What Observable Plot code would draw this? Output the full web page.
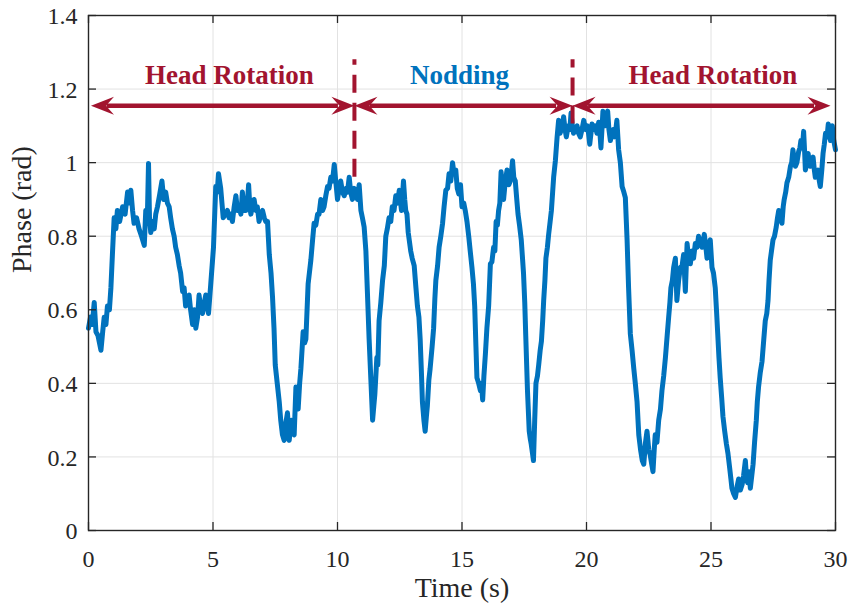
<!DOCTYPE html>
<html>
<head>
<meta charset="utf-8">
<script src="https://cdn.jsdelivr.net/npm/d3@7"></script>
<script src="https://cdn.jsdelivr.net/npm/@observablehq/plot@0.6"></script>
<style>
  html, body { margin: 0; padding: 0; background: #ffffff; }
  #chart svg { display: block; }
</style>
</head>
<body>
<div id="chart"></div>
<script>
// Phase signal over time (s → rad)
const time = [
  0.00,0.08,0.15,0.23,0.30,0.38,0.50,0.57,0.63,0.70,
  0.76,0.84,0.90,0.96,1.03,1.10,1.16,1.25,1.37,1.47,
  1.57,1.63,1.70,1.77,1.83,1.93,2.03,2.13,2.24,2.30,
  2.36,2.41,2.45,2.50,2.57,2.64,2.70,2.77,2.85,2.95,
  3.02,3.10,3.17,3.24,3.30,3.37,3.44,3.50,3.57,3.64,
  3.70,3.78,3.84,3.90,3.97,4.04,4.10,4.18,4.25,4.31,
  4.38,4.44,4.51,4.58,4.65,4.71,4.77,4.82,4.91,5.02,
  5.11,5.17,5.22,5.31,5.36,5.41,5.50,5.58,5.65,5.72,
  5.78,5.85,5.92,5.98,6.05,6.12,6.18,6.25,6.32,6.38,
  6.43,6.48,6.52,6.58,6.65,6.72,6.78,6.85,6.92,6.99,
  7.06,7.12,7.19,7.26,7.33,7.39,7.45,7.50,
  7.58,7.66,7.72,7.79,7.86,7.92,7.99,8.06,8.15,8.20,
  8.26,8.33,8.38,8.42,8.48,8.53,8.62,8.68,8.73,8.82,
  8.93,9.00,9.06,9.13,9.20,9.26,9.33,9.40,9.46,9.53,
  9.60,9.66,9.73,9.80,9.87,9.93,10.00,10.07,10.13,10.20,
  10.27,10.35,10.40,10.47,10.53,10.60,10.67,10.74,10.80,10.87,
  10.94,11.00,11.07,11.14,11.20,11.27,11.34,11.41,11.46,11.50,
  11.58,11.62,11.67,11.74,11.81,11.88,11.94,12.00,12.07,12.14,
  12.20,12.27,12.34,12.41,12.48,12.57,12.65,12.70,12.74,12.79,
  12.84,12.94,13.00,13.08,13.15,13.21,13.27,13.32,13.37,13.41,
  13.47,13.52,13.57,13.61,13.67,13.72,13.80,13.86,13.91,13.95,
  14.02,14.08,14.15,14.22,14.28,14.35,14.42,14.48,14.55,14.62,
  14.68,14.75,14.81,14.87,
  14.94,15.00,15.07,15.13,15.20,15.27,15.33,15.40,15.46,15.51,
  15.56,15.60,15.67,15.74,15.78,15.83,15.88,15.94,16.00,16.07,
  16.14,16.20,16.27,16.32,16.37,16.42,16.47,16.52,16.57,16.62,
  16.67,16.74,16.81,16.88,16.94,16.98,17.03,17.08,17.14,17.20,
  17.25,17.31,17.38,17.43,17.47,17.52,17.56,17.63,17.70,17.74,
  17.78,17.83,17.87,17.92,17.97,18.03,18.08,18.14,18.19,18.24,
  18.28,18.33,18.37,18.43,18.48,18.54,18.59,18.64,18.68,18.75,
  18.82,18.88,18.94,18.99,19.04,19.08,19.14,19.19,19.24,19.28,
  19.33,19.38,19.43,19.48,19.55,19.62,19.68,19.75,19.82,19.89,
  19.96,20.03,20.08,20.13,20.18,20.22,20.28,20.35,20.42,20.49,
  20.54,20.58,20.62,20.66,20.71,20.76,20.80,20.85,20.90,20.96,
  21.01,21.07,21.12,21.16,21.22,21.26,21.29,21.36,21.43,21.50,
  21.56,21.63,21.69,21.76,21.83,21.90,21.96,22.03,22.10,22.17,
  22.24,
  22.30,22.37,22.43,22.50,22.56,22.62,22.67,22.72,22.76,22.83,
  22.90,22.97,23.03,23.10,23.17,23.24,23.30,23.35,23.39,23.45,
  23.50,23.57,23.63,23.70,23.77,23.84,23.90,23.97,24.04,24.10,
  24.17,24.24,24.30,24.37,24.44,24.50,24.57,24.64,24.73,24.78,
  24.84,24.90,24.97,25.04,25.10,25.17,25.22,25.27,25.32,25.37,
  25.43,25.48,25.55,25.62,25.68,25.75,25.80,25.84,25.91,25.98,
  26.05,26.11,26.18,26.25,26.31,26.38,26.43,26.47,26.53,26.58,
  26.64,26.69,26.75,26.82,26.86,26.91,26.98,27.05,27.12,27.18,
  27.24,27.29,27.33,27.38,27.43,27.49,27.55,27.62,27.67,27.72,
  27.78,27.85,27.90,27.94,28.00,28.05,28.12,28.19,28.24,28.29,
  28.34,28.39,28.45,28.52,28.57,28.61,28.67,28.72,28.76,28.79,
  28.85,28.90,28.95,28.99,29.05,29.10,29.15,29.19,29.25,29.30,
  29.35,29.39,29.45,29.50,29.55,29.60,29.66,29.71,29.76,29.80,
  29.85,29.87,29.93,30.00
];
const phase = [
  0.55,0.58,0.56,0.62,0.54,0.53,0.49,0.54,0.58,0.56,
  0.61,0.60,0.66,0.75,0.85,0.82,0.87,0.84,0.88,0.86,
  0.92,0.89,0.925,0.87,0.835,0.85,0.82,0.80,0.775,0.87,
  0.84,0.998,0.85,0.81,0.84,0.82,0.86,0.88,0.91,0.95,
  0.90,0.92,0.89,0.88,0.85,0.82,0.80,0.77,0.75,0.72,
  0.70,0.65,0.66,0.61,0.63,0.64,0.60,0.56,0.60,0.55,
  0.58,0.64,0.60,0.59,0.62,0.64,0.61,0.59,0.67,0.77,
  0.935,0.92,0.97,0.93,0.89,0.85,0.86,0.87,0.85,0.86,
  0.84,0.88,0.91,0.87,0.88,0.86,0.92,0.87,0.87,0.89,
  0.94,0.88,0.86,0.88,0.90,0.87,0.88,0.84,0.86,0.87,
  0.85,0.84,0.84,0.75,0.70,0.635,0.55,0.45,
  0.40,0.35,0.30,0.26,0.245,0.29,0.32,0.245,0.30,0.27,
  0.26,0.39,0.35,0.33,0.40,0.44,0.54,0.51,0.52,0.67,
  0.735,0.79,0.835,0.83,0.86,0.86,0.90,0.87,0.88,0.91,
  0.935,0.93,0.96,0.95,0.995,0.95,0.90,0.93,0.95,0.92,
  0.91,0.93,0.92,0.96,0.92,0.90,0.93,0.925,0.90,0.94,
  0.87,0.85,0.825,0.76,0.65,0.52,0.41,0.30,0.34,0.37,
  0.47,0.45,0.57,0.62,0.68,0.72,0.80,0.82,0.85,0.84,
  0.88,0.87,0.91,0.89,0.925,0.87,0.95,0.90,0.87,0.86,
  0.81,0.76,0.74,0.72,0.66,0.61,0.58,0.52,0.43,0.35,
  0.30,0.27,0.31,0.34,0.41,0.44,0.50,0.55,0.63,0.68,
  0.72,0.77,0.80,0.835,0.88,0.925,0.93,0.97,0.95,1.00,
  0.97,0.98,0.93,0.915,
  0.94,0.88,0.89,0.87,0.84,0.80,0.76,0.715,0.67,0.61,
  0.50,0.415,0.40,0.38,0.40,0.355,0.42,0.48,0.55,0.61,
  0.725,0.73,0.77,0.76,0.84,0.83,0.87,0.89,0.975,0.93,
  0.90,0.95,0.98,0.94,0.95,0.97,1.005,0.96,0.95,0.90,
  0.86,0.83,0.79,0.74,0.70,0.62,0.53,0.38,0.27,0.25,
  0.235,0.21,0.19,0.30,0.40,0.42,0.45,0.49,0.515,0.57,
  0.625,0.68,0.74,0.77,0.805,0.84,0.87,0.92,0.96,1.005,
  1.07,1.115,1.08,1.09,1.10,1.125,1.09,1.07,1.09,1.10,
  1.09,1.135,1.10,1.08,1.09,1.10,1.08,1.07,1.09,1.115,
  1.09,1.10,1.08,1.05,1.08,1.105,1.09,1.10,1.08,1.11,
  1.08,1.04,1.09,1.14,1.10,1.10,1.12,1.14,1.09,1.06,
  1.08,1.09,1.07,1.08,1.115,1.07,1.035,1.00,0.935,0.92,
  0.905,0.79,0.66,0.535,0.49,0.44,0.40,0.35,0.26,0.22,
  0.19,
  0.18,0.24,0.27,0.22,0.205,0.18,0.16,0.22,0.26,0.24,
  0.30,0.33,0.38,0.42,0.47,0.53,0.58,0.62,0.66,0.68,
  0.715,0.74,0.625,0.68,0.715,0.72,0.75,0.65,0.78,0.74,
  0.725,0.76,0.74,0.78,0.77,0.80,0.78,0.77,0.805,0.78,
  0.74,0.77,0.79,0.715,0.70,0.66,0.60,0.535,0.47,0.415,
  0.36,0.31,0.27,0.235,0.21,0.17,0.14,0.115,0.10,0.09,
  0.12,0.14,0.11,0.125,0.15,0.19,0.14,0.13,0.16,0.115,
  0.15,0.18,0.24,0.30,0.35,0.39,0.43,0.46,0.52,0.57,
  0.59,0.625,0.68,0.735,0.76,0.79,0.80,0.825,0.85,0.87,
  0.86,0.835,0.88,0.90,0.92,0.945,0.96,0.99,1.00,1.035,
  1.01,0.99,1.00,1.03,1.04,1.06,1.04,1.085,1.03,0.98,
  1.00,1.025,1.00,0.99,1.00,1.015,0.98,0.96,0.97,0.98,
  0.95,0.935,0.98,1.025,1.05,1.08,1.07,1.105,1.08,1.06,
  1.08,1.10,1.06,1.035
];

// Axis ticks
const xTicks = [0, 5, 10, 15, 20, 25, 30];
const yTicks = [0, 0.2, 0.4, 0.6, 0.8, 1.0, 1.2, 1.4];
const yTickLabels = ["0", "0.2", "0.4", "0.6", "0.8", "1", "1.2", "1.4"];

// Motion phases: arrow extents, captions and caption positions
const phaseStart = [0.1, 10.68, 19.44];
const phaseEnd = [10.68, 19.44, 29.8];
const phaseNames = ["Head Rotation", "Nodding", "Head Rotation"];
const phaseNameX = [5.66, 14.9, 25.08];
const phaseNameColors = ["#A2142F", "#0072BD", "#A2142F"];
const arrowLevel = 1.155;
const nameLevel = 1.215;

// Dashed dividers between phases
const dividerX = [10.68, 19.44];
const dividerTop = [1.28, 1.28];
const dividerBottom = [0.96, 1.105];

const lineBlue = "#0072BD";
const markRed = "#A2142F";
const axisInk = "#262626";
const serif = "'Liberation Serif', 'Times New Roman', serif";

const samples = d3.range(Math.min(time.length, phase.length)).map(i => ({t: time[i], v: phase[i]}));
const spans = phaseStart.map((s, i) => ({x1: s, x2: phaseEnd[i], y: arrowLevel}));
const leftHeads = phaseStart.map(s => ({x: s, y: arrowLevel}));
const rightHeads = phaseEnd.map(e => ({x: e, y: arrowLevel}));
const names = phaseNames.map((n, i) => ({name: n, x: phaseNameX[i], y: nameLevel, color: phaseNameColors[i]}));
const dividers = dividerX.map((x, i) => ({x, y1: dividerBottom[i], y2: dividerTop[i]}));
const yTickRows = yTicks.map((v, i) => ({v, label: yTickLabels[i]}));

// Filled, swept-back arrowheads (tip at the anchor point)
const headRight = {
  draw(ctx) {
    ctx.moveTo(0, 0);
    ctx.lineTo(-23, -9);
    ctx.lineTo(-15, 0);
    ctx.lineTo(-23, 9);
    ctx.closePath();
  }
};
const headLeft = {
  draw(ctx) {
    ctx.moveTo(0, 0);
    ctx.lineTo(23, -9);
    ctx.lineTo(15, 0);
    ctx.lineTo(23, 9);
    ctx.closePath();
  }
};

const chart = Plot.plot({
  width: 851,
  height: 605,
  marginLeft: 88,
  marginRight: 16,
  marginTop: 15,
  marginBottom: 75,
  style: {fontFamily: serif, background: "#ffffff", overflow: "visible"},
  x: {domain: [0, 30], axis: null},
  y: {domain: [0, 1.4], axis: null},
  marks: [
    // grid
    Plot.gridX(xTicks.slice(1, -1), {stroke: "#e2e2e2", strokeOpacity: 1, strokeWidth: 1}),
    Plot.gridY(yTicks.slice(1, -1), {stroke: "#e2e2e2", strokeOpacity: 1, strokeWidth: 1}),

    // phase signal
    Plot.line(samples, {x: "t", y: "v", stroke: lineBlue, strokeWidth: 5, strokeLinejoin: "round", strokeLinecap: "round"}),

    // phase dividers
    Plot.ruleX(dividers, {x: "x", y1: "y1", y2: "y2", stroke: markRed, strokeWidth: 4, strokeDasharray: "18,10"}),

    // double arrows
    Plot.ruleY(spans, {x1: "x1", x2: "x2", y: "y", stroke: markRed, strokeWidth: 4.5, insetLeft: 16, insetRight: 16}),
    Plot.dot(leftHeads, {x: "x", y: "y", symbol: headLeft, fill: markRed, stroke: "none", r: 10}),
    Plot.dot(rightHeads, {x: "x", y: "y", symbol: headRight, fill: markRed, stroke: "none", r: 10}),

    // phase names
    Plot.text(names, {x: "x", y: "y", text: "name", fill: "color", fontSize: 27, fontWeight: "bold", lineAnchor: "bottom", textAnchor: "middle"}),

    // axes box
    Plot.frame({stroke: axisInk, strokeWidth: 1.4}),

    // inward ticks on all four sides
    Plot.ruleX(xTicks, {x: d => d, y1: () => 0, y2: () => 0, insetTop: -8, stroke: axisInk, strokeWidth: 1.3}),
    Plot.ruleX(xTicks, {x: d => d, y1: () => 1.4, y2: () => 1.4, insetBottom: -8, stroke: axisInk, strokeWidth: 1.3}),
    Plot.ruleY(yTicks, {y: d => d, x1: () => 0, x2: () => 0, insetRight: -8, stroke: axisInk, strokeWidth: 1.3}),
    Plot.ruleY(yTicks, {y: d => d, x1: () => 30, x2: () => 30, insetLeft: -8, stroke: axisInk, strokeWidth: 1.3}),

    // tick labels
    Plot.text(xTicks, {x: d => d, text: d => String(d), frameAnchor: "bottom", dy: 36, lineAnchor: "bottom", fontSize: 24, fill: axisInk}),
    Plot.text(yTickRows, {y: "v", text: "label", frameAnchor: "left", dx: -11, dy: 1, textAnchor: "end", lineAnchor: "middle", fontSize: 24, fill: axisInk}),

    // axis titles
    Plot.text(["Time (s)"], {text: d => d, frameAnchor: "bottom", dy: 66, lineAnchor: "bottom", fontSize: 28, fill: axisInk}),
    Plot.text(["Phase (rad)"], {text: d => d, frameAnchor: "left", dx: -66, rotate: -90, lineAnchor: "middle", fontSize: 28, fill: axisInk})
  ]
});

document.getElementById("chart").appendChild(chart);
</script>
</body>
</html>
